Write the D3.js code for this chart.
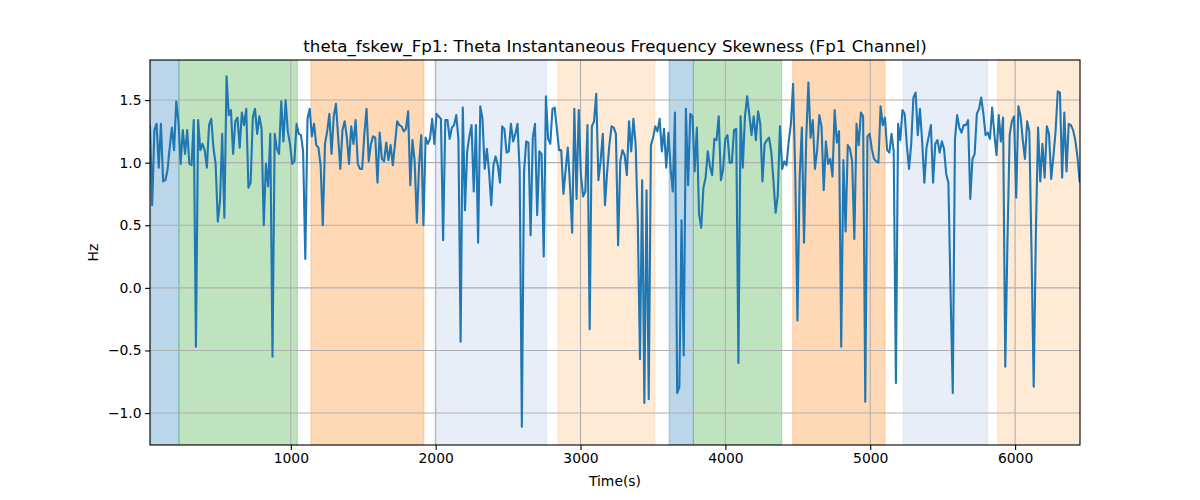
<!DOCTYPE html>
<html>
<head>
<meta charset="utf-8">
<script src="https://cdn.jsdelivr.net/npm/d3@7"></script>
<style>
  html, body { margin: 0; padding: 0; background: #fff; }
  svg { display: block; font-family: "DejaVu Sans", sans-serif; }
</style>
</head>
<body>
<svg id="chart" width="1200" height="500"></svg>
<script>
// ---- data ----
const titleText = "theta_fskew_Fp1: Theta Instantaneous Frequency Skewness (Fp1 Channel)";
const xLabelText = "Time(s)";
const yLabelText = "Hz";

const tStart = 28;     // first sample time (s)
const tStep = 15.1;    // sampling step (s)

const values = [
  // 0 - ~800 s
  1.29, 0.66, 1.26, 1.31, 0.96, 1.31, 0.85, 0.86, 0.94, 1.12, 1.28, 1.10, 1.49, 1.33, 0.99, 1.26, 1.07, 1.26, 0.99, 0.98, 1.34,
  -0.47, 1.34, 1.10, 1.15, 1.10, 0.96, 1.30, 1.35, 1.12, 0.99, 0.53, 0.69, 1.23, 0.56, 1.69, 1.38, 1.42, 1.07, 1.33, 1.36,
  1.12, 1.40, 1.30, 1.43, 0.80, 0.84, 1.36, 1.43, 1.23, 1.37, 1.27, 0.50,
  // ~800 - 1600 s
  0.99, 0.81, 1.23, -0.55, 1.23, 1.11, 1.07, 1.49, 1.17, 1.50, 1.25, 1.15, 0.99, 1.01, 1.31, 1.23, 1.22, 1.09, 0.23, 1.35,
  1.43, 1.21, 1.31, 1.14, 1.12, 0.98, 0.50, 1.15, 1.25, 1.39, 1.07, 1.37, 1.47, 1.21, 0.95, 1.26, 1.33, 1.20, 0.99,
  1.29, 1.15, 1.34, 0.99, 0.95, 0.95, 1.23, 1.43, 1.01, 1.15, 1.21, 1.20, 0.84,
  // ~1600 - 2450 s
  1.24, 1.03, 1.01, 1.16, 1.02, 1.14, 0.98, 1.15, 1.33, 1.30, 1.29, 1.25, 1.27, 1.41, 0.82, 1.18, 1.01, 0.52, 0.98, 1.22,
  0.50, 1.20, 1.15, 1.19, 1.35, 1.15, 1.39, 1.37, 1.35, 0.38, 1.34, 1.34, 1.19, 1.28, 1.30, 1.38, 1.19, -0.43, 1.44, 0.62,
  1.09, 1.21, 1.30, 0.77, 1.30, 0.36, 1.45, 1.35, 0.95, 1.11, 0.93, 0.66, 0.98, 1.05, 0.98, 0.84,
  // ~2450 - 3280 s
  1.29, 1.27, 1.08, 1.09, 1.31, 1.17, 1.23, 1.31, 0.94, -1.11, 0.93, 1.17, 1.16, 0.42, 1.20, 1.31, 0.58, 1.09, 1.07, 0.25,
  1.53, 1.19, 1.15, 1.43, 1.44, 1.27, 1.10, 1.10, 0.75, 0.94, 1.12, 0.82, 0.44, 1.43, 0.71, 1.42, 0.90, 0.73, 0.77, 1.30,
  -0.33, 1.29, 1.33, 1.55, 0.86, 1.01, 1.23, 0.66, 0.93, 1.14, 1.29, 1.28, 1.23, 0.34, 1.01,
  // ~3280 - 4140 s
  1.10, 1.06, 0.90, 1.33, 1.09, 1.35, 1.15, 0.53, -0.57, 0.86, -0.92, 0.78, -0.89, 1.14, 1.20, 1.29, 1.25, 1.35, 1.09, 1.27,
  0.96, 1.24, 0.95, 0.77, 1.40, -0.84, -0.79, 0.54, -0.54, 1.43, 0.82, 1.39, 1.37, 0.93, 1.28, 0.59, 0.48, 0.80, 0.88, 1.09,
  0.97, 0.90, 1.19, 1.18, 1.37, 0.86, 0.95, 1.19, 1.22, 1.00, 1.00, 1.26, 1.27, -0.60, 1.37, 0.96, 1.37,
  // ~4140 - 4970 s
  1.53, 1.38, 1.22, 1.37, 1.18, 1.41, 1.31, 0.85, 1.15, 1.18, 1.20, 1.09, 0.86, 0.60, 0.74, 1.29, 0.95, 1.01, 0.98, 1.17,
  1.31, 1.63, 0.90, -0.26, 0.88, 1.28, 0.36, 1.19, 1.64, 1.20, 1.34, 0.95, 1.10, 1.38, 1.29, 0.78, 1.17, 0.99, 1.03, 0.89,
  1.42, 1.16, 1.25, -0.47, 1.02, 0.45, 1.14, 1.11, 1.01, 0.39, 1.31, 1.14, 1.40, 1.37, -0.91,
  // ~4970 - 5800 s
  1.21, 1.23, 1.11, 1.03, 1.01, 1.00, 1.45, 1.30, 1.36, 1.10, 1.08, 1.23, 1.09, -0.76, 1.31, 1.18, 1.42, 1.39, 1.14, 0.95,
  1.15, 1.52, 1.56, 1.22, 1.43, 1.17, 0.84, 1.12, 1.21, 1.30, 0.84, 1.15, 1.18, 1.08, 1.17, 1.11, 0.91, 0.84, -0.04, -0.84,
  1.19, 1.38, 1.28, 1.24, 1.30, 1.30, 1.34, 0.71, 1.03, 1.07, 1.39, 1.43, 1.52, 1.39, 1.22,
  // ~5800 - 6450 s
  1.24, 1.19, 1.44, 1.23, 1.06, 1.38, 1.17, 1.36, -0.63, 0.37, 1.22, 1.33, 1.37, 0.72, 1.45, 1.37, 1.18, 1.03, 1.33, 1.25,
  0.29, -0.79, 0.45, 1.28, 0.85, 1.15, 0.88, 1.29, 1.23, 0.87, 1.05, 1.25, 1.57, 1.56, 0.88, 1.40, 0.93, 1.31, 1.30, 1.26,
  1.18, 1.05, 0.85
];
const times = values.map((_, i) => tStart + i * tStep);

// shaded segments (time in s) and their category
const spanStart = [28, 228, 1139, 1995, 2844, 3611, 3779, 4465, 5228, 5880];
const spanEnd   = [228, 1045, 1919, 2766, 3514, 3779, 4389, 5102, 5811, 6448];
const spanStage = ["A", "B", "C", "D", "E", "A", "B", "C", "D", "E"];
const stageNames = ["A", "B", "C", "D", "E"];

const xTicks = [1000, 2000, 3000, 4000, 5000, 6000];
const yTicks = [-1.0, -0.5, 0.0, 0.5, 1.0, 1.5];
const yDomain = [-1.255, 1.82];

// ---- layout ----
const L = 150, R = 1080, T = 60, B = 445;
const svg = d3.select("#chart");

const x = d3.scaleLinear().domain([tStart, d3.max(spanEnd.concat(times))]).range([L, R]);
const y = d3.scaleLinear().domain(yDomain).range([B, T]);
const stageColor = d3.scaleOrdinal().domain(stageNames)
  .range(["#1f77b4", "#2ca02c", "#ff7f0e", "#aec7e8", "#ffbb78"]);

svg.append("defs").append("clipPath").attr("id", "clip")
  .append("rect").attr("x", L).attr("y", T).attr("width", R - L).attr("height", B - T);

const plot = svg.append("g").attr("clip-path", "url(#clip)");

// spans
plot.selectAll("rect.span").data(spanStart.map((s, i) => ({ s, e: spanEnd[i], k: spanStage[i] })))
  .join("rect").attr("class", "span")
  .attr("x", d => x(d.s)).attr("width", d => x(d.e) - x(d.s))
  .attr("y", T).attr("height", B - T)
  .attr("fill", d => stageColor(d.k)).attr("fill-opacity", 0.3)
  .attr("stroke", d => stageColor(d.k)).attr("stroke-opacity", 0.3).attr("stroke-width", 1);

// grid
plot.selectAll("line.gx").data(xTicks).join("line").attr("class", "gx")
  .attr("x1", d => x(d)).attr("x2", d => x(d)).attr("y1", T).attr("y2", B)
  .attr("stroke", "#b0b0b0").attr("stroke-width", 1.1);
plot.selectAll("line.gy").data(yTicks).join("line").attr("class", "gy")
  .attr("y1", d => y(d)).attr("y2", d => y(d)).attr("x1", L).attr("x2", R)
  .attr("stroke", "#b0b0b0").attr("stroke-width", 1.1);

// line
const line = d3.line().x((d, i) => x(times[i])).y(d => y(d));
plot.append("path").datum(values)
  .attr("d", line).attr("fill", "none")
  .attr("stroke", "#1f77b4").attr("stroke-width", 2.1)
  .attr("stroke-linejoin", "round").attr("stroke-linecap", "square");

// axes
const fmtY = d => (d < 0 ? "\u2212" : "") + Math.abs(d).toFixed(1);
const xAxis = d3.axisBottom(x).tickValues(xTicks).tickSize(4.9).tickPadding(3.5).tickFormat(d3.format("d"));
const yAxis = d3.axisLeft(y).tickValues(yTicks).tickSize(4.9).tickPadding(3.5).tickFormat(fmtY);

const gx = svg.append("g").attr("transform", `translate(0,${B})`).call(xAxis);
const gy = svg.append("g").attr("transform", `translate(${L},0)`).call(yAxis);
[gx, gy].forEach(g => {
  g.select(".domain").remove();
  g.selectAll(".tick line").attr("stroke", "#000").attr("stroke-width", 1.1);
  g.selectAll(".tick text").attr("fill", "#000").attr("font-size", "13.9px")
    .attr("font-family", "DejaVu Sans, sans-serif");
});

// frame
svg.append("rect").attr("x", L).attr("y", T).attr("width", R - L).attr("height", B - T)
  .attr("fill", "none").attr("stroke", "#000").attr("stroke-width", 1.1);

// labels
svg.append("text").attr("x", (L + R) / 2).attr("y", 52).attr("text-anchor", "middle")
  .attr("font-size", "16.7px").attr("fill", "#000").text(titleText);
svg.append("text").attr("x", (L + R) / 2).attr("y", 486).attr("text-anchor", "middle")
  .attr("font-size", "13.9px").attr("fill", "#000").text(xLabelText);
svg.append("text").attr("transform", `translate(98,${(T + B) / 2}) rotate(-90)`).attr("text-anchor", "middle")
  .attr("font-size", "13.9px").attr("fill", "#000").text(yLabelText);
</script>
</body>
</html>
